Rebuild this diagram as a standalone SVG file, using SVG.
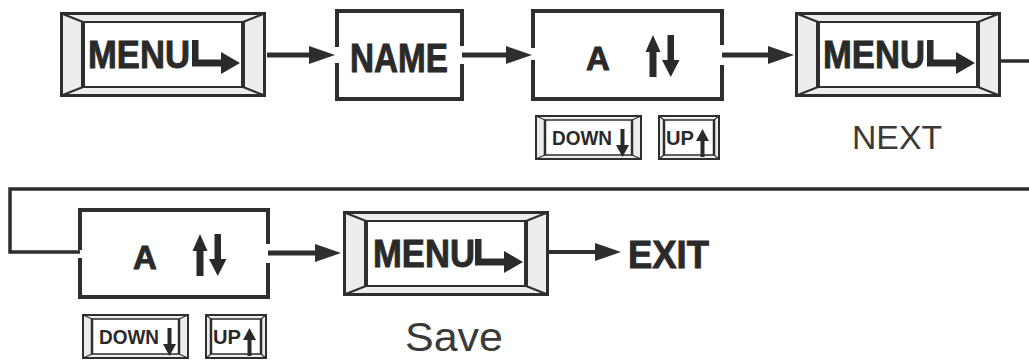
<svg xmlns="http://www.w3.org/2000/svg" xmlns:xlink="http://www.w3.org/1999/xlink" width="1029" height="360" viewBox="0 0 1029 360">
<style>
.ln{stroke:#2e2e2e;fill:none}
.box{stroke:#2e2e2e;stroke-width:4;fill:none;stroke-linecap:square}
.bold{font-family:"Liberation Sans",Arial,sans-serif;font-weight:bold;fill:#2a2a2a}
.heavy{stroke:#2a2a2a;stroke-width:0.9}
.reg{font-family:"Liberation Sans",Arial,sans-serif;fill:#3a3a3a}
</style>
<defs>
<marker id="ah" viewBox="0 0 26 18" refX="10" refY="9" markerWidth="26" markerHeight="18" markerUnits="userSpaceOnUse" orient="auto">
<path d="M0,0 L26,9 L0,18 z" fill="#2e2e2e"/>
</marker>
<g id="menuFrame">
<rect x="1.5" y="1.5" width="203" height="82" fill="#ededed" stroke="#2e2e2e" stroke-width="3"/>
<rect x="23" y="10" width="160" height="65" fill="#fff" stroke="#2e2e2e" stroke-width="2"/>
<line x1="23" y1="9" x2="23" y2="76" stroke="#2e2e2e" stroke-width="4"/>
<line x1="183" y1="9" x2="183" y2="76" stroke="#2e2e2e" stroke-width="4"/>
<path d="M1.5,1.5 L23,10 M204.5,1.5 L183,10 M1.5,83.5 L23,75 M204.5,83.5 L183,75" stroke="#2e2e2e" stroke-width="2" fill="none"/>
<path d="M132,28 H138.5 V47.5 H161 V40 L180,51 L161,62 V54.5 H132 Z" fill="#2a2a2a"/>
</g>
<g id="downFrame">
<rect x="1" y="1" width="105" height="43" fill="#ededed" stroke="#2e2e2e" stroke-width="2"/>
<rect x="10" y="5" width="87" height="35" fill="#fff" stroke="#2e2e2e" stroke-width="1.5"/>
<line x1="10" y1="5" x2="10" y2="40" stroke="#2e2e2e" stroke-width="2.5"/>
<line x1="97" y1="5" x2="97" y2="40" stroke="#2e2e2e" stroke-width="2.5"/>
<path d="M1,1 L10,5 M106,1 L97,5 M1,44 L10,40 M106,44 L97,40" stroke="#2e2e2e" stroke-width="1.2" fill="none"/>
<path d="M85.5,14 h4 v16 h4.5 l-6.5,12 l-6.5,-12 h4.5 z" fill="#2a2a2a"/>
</g>
<g id="upFrame">
<rect x="1" y="1" width="60" height="43" fill="#ededed" stroke="#2e2e2e" stroke-width="2"/>
<rect x="6" y="5" width="50" height="35" fill="#fff" stroke="#2e2e2e" stroke-width="1.5"/>
<line x1="6" y1="5" x2="6" y2="40" stroke="#2e2e2e" stroke-width="2.5"/>
<line x1="56" y1="5" x2="56" y2="40" stroke="#2e2e2e" stroke-width="2.5"/>
<path d="M1,1 L6,5 M61,1 L56,5 M1,44 L6,40 M61,44 L56,40" stroke="#2e2e2e" stroke-width="1.2" fill="none"/>
<path d="M44.5,14 l6.5,12 h-4.5 v16 h-4 v-16 h-4.5 z" fill="#2a2a2a"/>
</g>
<g id="updownIcon">
<path d="M653,35 l7.5,17 h-4 v25 h-7 v-25 h-4 z" fill="#2a2a2a"/>
<path d="M667.5,35 h6.5 v25 h5.5 l-8.75,17 l-8.75,-17 h5.5 z" fill="#2a2a2a"/>
</g>
</defs>

<g id="connectors">
<line class="ln" x1="267" y1="55" x2="319" y2="55" stroke-width="5" marker-end="url(#ah)"/>
<line class="ln" x1="462" y1="55" x2="516" y2="55" stroke-width="5" marker-end="url(#ah)"/>
<line class="ln" x1="722" y1="55" x2="778" y2="55" stroke-width="5" marker-end="url(#ah)"/>
<path class="ln" d="M1001,61 H1045 V189 H10 V252 H80" stroke-width="3.5"/>
<line class="ln" x1="268" y1="253" x2="325" y2="253" stroke-width="5" marker-end="url(#ah)"/>
<line class="ln" x1="549" y1="252" x2="605" y2="252" stroke-width="4" marker-end="url(#ah)"/>
</g>

<g id="menu1">
<use xlink:href="#menuFrame" transform="translate(60,12)"/>
<text class="bold heavy" x="88" y="68" font-size="39" textLength="102" lengthAdjust="spacingAndGlyphs">MENU</text>
</g>

<g id="name">
<path class="box" d="M337,45 V11 H462 V44 M462,66 V99 H337 V65"/>
<text class="bold heavy" x="350" y="72" font-size="40" textLength="98" lengthAdjust="spacingAndGlyphs">NAME</text>
</g>

<g id="select1">
<path class="box" d="M533,46 V11 H722 V43 M722,67 V99 H533 V62"/>
<text class="bold heavy" x="586" y="70" font-size="33">A</text>
<use xlink:href="#updownIcon"/>
</g>

<g id="down1">
<use xlink:href="#downFrame" transform="translate(535,115)"/>
<text class="bold" x="552" y="145" font-size="20" textLength="60" lengthAdjust="spacingAndGlyphs">DOWN</text>
</g>

<g id="up1">
<use xlink:href="#upFrame" transform="translate(658,115)"/>
<text class="bold" x="666" y="145" font-size="20" textLength="28" lengthAdjust="spacingAndGlyphs">UP</text>
</g>

<g id="menu2">
<use xlink:href="#menuFrame" transform="translate(795,12)"/>
<text class="bold heavy" x="823" y="68" font-size="39" textLength="102" lengthAdjust="spacingAndGlyphs">MENU</text>
<text class="reg" x="852" y="149" font-size="33" textLength="90" lengthAdjust="spacingAndGlyphs">NEXT</text>
</g>

<g id="select2">
<path class="box" d="M80,248 V210 H268 V242 M268,265 V297 H80 V260"/>
<text class="bold heavy" x="133" y="269" font-size="33">A</text>
<use xlink:href="#updownIcon" transform="translate(-453,199)"/>
</g>

<g id="down2">
<use xlink:href="#downFrame" transform="translate(82,314)"/>
<text class="bold" x="99" y="344" font-size="20" textLength="60" lengthAdjust="spacingAndGlyphs">DOWN</text>
</g>

<g id="up2">
<use xlink:href="#upFrame" transform="translate(205,314)"/>
<text class="bold" x="213" y="344" font-size="20" textLength="28" lengthAdjust="spacingAndGlyphs">UP</text>
</g>

<g id="menu3">
<use xlink:href="#menuFrame" transform="translate(343,211)"/>
<text class="bold heavy" x="373" y="267" font-size="39" textLength="102" lengthAdjust="spacingAndGlyphs">MENU</text>
<text class="reg" x="405" y="351" font-size="41" textLength="98" lengthAdjust="spacingAndGlyphs">Save</text>
</g>

<g id="exit">
<text class="bold heavy" x="628" y="268" font-size="39" textLength="81" lengthAdjust="spacingAndGlyphs">EXIT</text>
</g>
</svg>
